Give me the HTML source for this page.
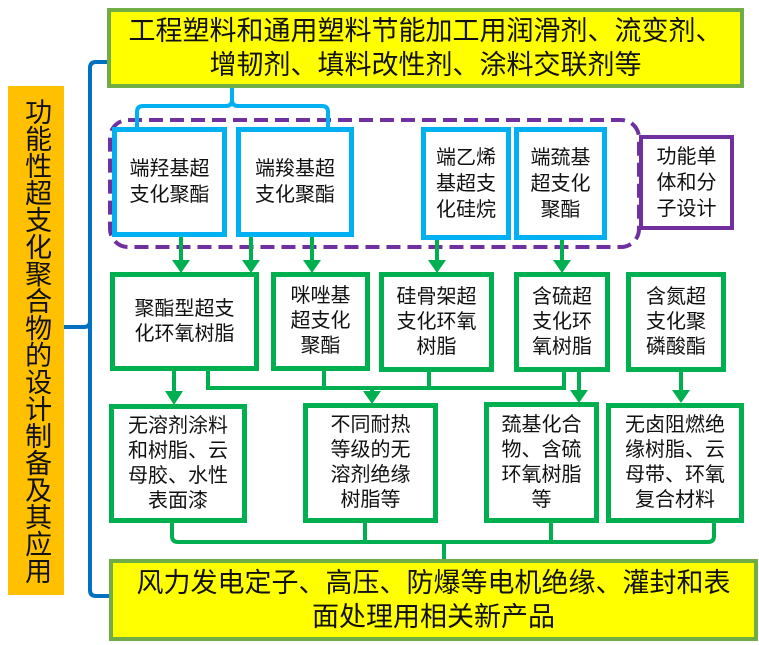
<!DOCTYPE html>
<html><head><meta charset="utf-8"><style>
body{margin:0;width:759px;height:645px;background:#fff;position:relative;overflow:hidden;font-family:"Liberation Sans","Noto Sans CJK SC",sans-serif;}
.b{position:absolute;box-sizing:border-box;display:flex;align-items:center;justify-content:center;text-align:center;color:#111;background:#fff;white-space:nowrap;}
.g{border:5px solid #00b050;font-size:20px;line-height:25px;}
.c{border:5px solid #00b0f0;font-size:20px;line-height:26px;}
.y{background:#ffff00;border:4px solid #70ad47;font-size:27px;line-height:34px;}
svg{position:absolute;left:0;top:0;}
</style></head><body>
<svg width="759" height="645">
<rect x="110" y="120" width="529" height="127" rx="18" fill="none" stroke="#7030a0" stroke-width="4" stroke-dasharray="14,7"/>
<path d="M107 62 H96 Q90 62 90 68 V590 Q90 596 96 596 H109 M64 327 H84 Q90 327 90 321" fill="none" stroke="#0070c0" stroke-width="4"/>
<path d="M232 88 V100 Q232 106 226 106 H143 Q137 106 137 112 V127 M232 100 Q232 106 238 106 H322 Q328 106 328 112 V127" fill="none" stroke="#00b0f0" stroke-width="4"/>
<g stroke="#00b050" stroke-width="4" fill="none">
<path d="M181 237 V262 M251 237 V262 M312 237 V262 M437 240 V262 M562 240 V262"/>
<path d="M174 371 V394 M208 371 V388 H564 V372 M324 371 V388 M429 372 V388 M372 388 V394 M579 372 V393 M681 372 V393"/>
<path d="M172 523 V536 Q172 542 178 542 H708 Q714 542 714 536 V523 M365 523 V542 M551 523 V542 M444 542 V559"/>
</g>
<g fill="#00b050">
<path d="M172 260 H190 L181 273Z M242 260 H260 L251 273Z M303 260 H321 L312 273Z M428 260 H446 L437 273Z M553 260 H571 L562 273Z"/>
<path d="M165 391 H183 L174 405Z M363 391 H381 L372 404Z M570 390 H588 L579 403Z M672 390 H690 L681 403Z"/>
</g>
</svg>
<div class="b" style="left:8px;top:86px;width:56px;height:509px;background:#ffc000;font-size:27px;line-height:28.2px;writing-mode:vertical-rl;">功能性超支化聚合物的设计制备及其应用</div>
<div class="b y" style="left:107px;top:8px;width:637px;height:80px;">工程塑料和通用塑料节能加工用润滑剂、流变剂、<br>增韧剂、填料改性剂、涂料交联剂等</div>
<div class="b c" style="left:112px;top:127px;width:115px;height:110px;">端羟基超<br>支化聚酯</div>
<div class="b c" style="left:236px;top:127px;width:118px;height:110px;">端羧基超<br>支化聚酯</div>
<div class="b c" style="left:421px;top:127px;width:90px;height:113px;">端乙烯<br>基超支<br>化硅烷</div>
<div class="b c" style="left:514px;top:127px;width:93px;height:113px;">端巯基<br>超支化<br>聚酯</div>
<div class="b" style="left:639px;top:135px;width:95px;height:95px;border:4px solid #7030a0;font-size:20px;line-height:26px;">功能单<br>体和分<br>子设计</div>
<div class="b g" style="left:110px;top:272px;width:149px;height:99px;">聚酯型超支<br>化环氧树脂</div>
<div class="b g" style="left:271px;top:272px;width:99px;height:99px;">咪唑基<br>超支化<br>聚酯</div>
<div class="b g" style="left:379px;top:272px;width:115px;height:100px;">硅骨架超<br>支化环氧<br>树脂</div>
<div class="b g" style="left:514px;top:272px;width:96px;height:100px;">含硫超<br>支化环<br>氧树脂</div>
<div class="b g" style="left:626px;top:272px;width:100px;height:100px;">含氮超<br>支化聚<br>磷酸酯</div>
<div class="b g" style="left:109px;top:404px;width:138px;height:119px;">无溶剂涂料<br>和树脂、云<br>母胶、水性<br>表面漆</div>
<div class="b g" style="left:303px;top:403px;width:135px;height:120px;">不同耐热<br>等级的无<br>溶剂绝缘<br>树脂等</div>
<div class="b g" style="left:484px;top:402px;width:115px;height:121px;">巯基化合<br>物、含硫<br>环氧树脂<br>等</div>
<div class="b g" style="left:606px;top:403px;width:138px;height:120px;">无卤阻燃绝<br>缘树脂、云<br>母带、环氧<br>复合材料</div>
<div class="b y" style="left:109px;top:559px;width:649px;height:82px;">风力发电定子、高压、防爆等电机绝缘、灌封和表<br>面处理用相关新产品</div>
</body></html>
